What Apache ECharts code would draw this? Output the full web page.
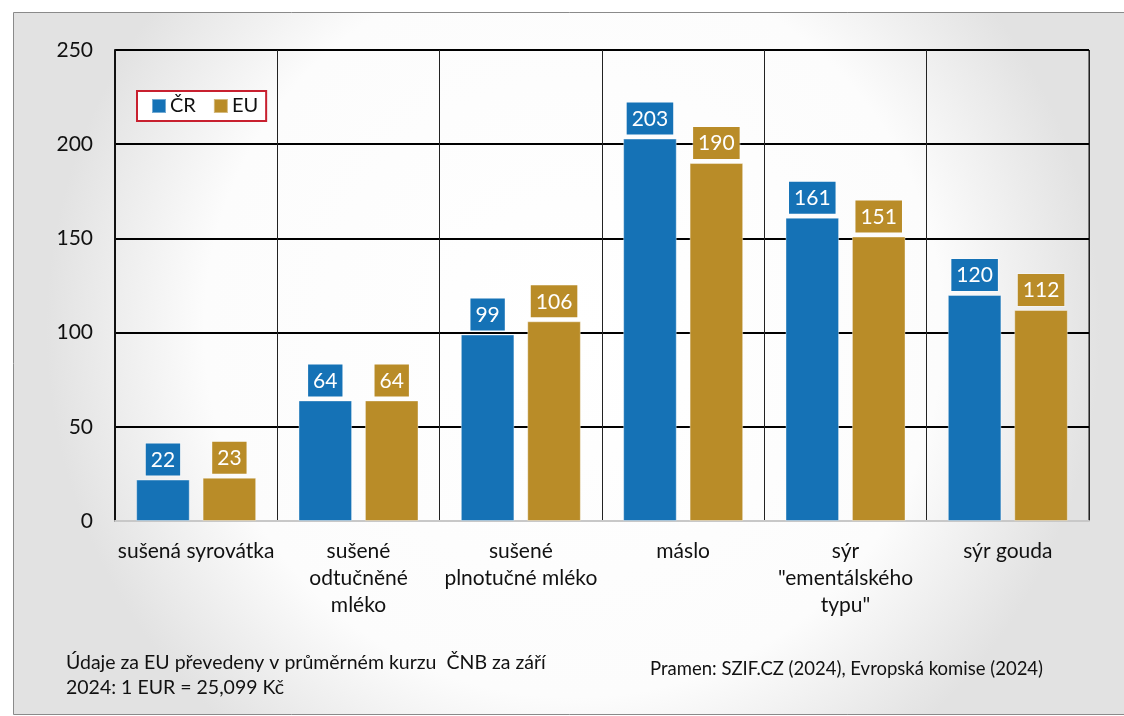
<!DOCTYPE html>
<html><head><meta charset="utf-8">
<script src="https://cdn.jsdelivr.net/npm/echarts@6/dist/echarts.min.js"></script>
<style>html,body{margin:0;padding:0;background:#fff}#c{width:1124px;height:716px}</style>
</head><body><div id="c"></div>
<script>
const categories = ['sušená syrovátka', 'sušené\nodtučněné\nmléko', 'sušené\nplnotučné mléko', 'máslo', 'sýr\n"ementálského\ntypu"', 'sýr gouda'];
const seriesCR = [22, 64, 99, 203, 161, 120];
const seriesEU = [23, 64, 106, 190, 151, 112];
const yTicks = [0, 50, 100, 150, 200, 250];
const noteLeft = 'Údaje za EU převedeny v průměrném kurzu  ČNB za září\n2024: 1 EUR = 25,099 Kč';
const noteRight = 'Pramen: SZIF.CZ (2024), Evropská komise (2024)';

const FONT = 'Lato, "Open Sans", sans-serif';
const BLUE = '#1572b6', GOLD = '#b98c28';
const chart = echarts.init(document.getElementById('c'));
const lbl = c => ({show:true, position:'top', distance:4, color:'#fff', fontSize:21, fontFamily:FONT,
  backgroundColor:c, padding:[6,5,5,5], borderColor:'rgba(255,255,255,0.35)', borderWidth:1});
chart.setOption({
  animation:false,
  backgroundColor:'#fff',
  graphic:[
    {type:'rect', z:-10, shape:{x:13.5,y:12.5,width:1120,height:702},
     style:{stroke:'#8a8a8a', lineWidth:1,
       fill:{type:'radial', x:0.5, y:0.45, r:0.75, colorStops:[{offset:0,color:'#ffffff'},{offset:0.7,color:'#fcfcfc'},{offset:1,color:'#e2e2e2'}]}}},
    {type:'text', left:66, top:650, style:{text:noteLeft, fontSize:19.5, lineHeight:25, fontFamily:FONT, fill:'#111'}},
    {type:'text', left:650, top:660, style:{text:noteRight, fontSize:18.5, fontFamily:FONT, fill:'#111'}}
  ],
  legend:{left:137, top:91, width:126, height:29, padding:[5,8,5,14], itemWidth:14, itemHeight:14, itemGap:17,
    borderColor:'#c8202f', borderWidth:2, backgroundColor:'#fff',
    textStyle:{fontSize:20, fontFamily:FONT, color:'#111', padding:[0,0,0,-1]},
    data:[{name:'ČR', icon:'rect'},{name:'EU', icon:'rect'}]},
  grid:{left:115, right:35, top:50, bottom:195, show:true, borderColor:'#111', borderWidth:1, backgroundColor:'rgba(255,255,255,0.0)'},
  xAxis:{type:'category', data:categories,
    axisLine:{lineStyle:{color:'#c8c8c8', width:2}}, axisTick:{show:false},
    splitLine:{show:true, lineStyle:{color:'#222', width:1}},
    axisLabel:{fontSize:21, fontFamily:FONT, color:'#111', lineHeight:27, margin:17, interval:0}},
  yAxis:{type:'value', min:0, max:250, interval:50,
    axisLine:{show:true, lineStyle:{color:'#111', width:2}}, axisTick:{show:false},
    splitLine:{lineStyle:{color:'#000', width:2}},
    axisLabel:{fontSize:21, fontFamily:FONT, color:'#111', margin:22,
      formatter:v => yTicks.includes(v) ? String(v) : ''}},
  series:[
    {name:'ČR', type:'bar', data:seriesCR, barWidth:'33%', barGap:'24%', itemStyle:{color:BLUE, borderColor:'rgba(255,255,255,0.4)', borderWidth:1}, label:lbl(BLUE), z:3},
    {name:'EU', type:'bar', data:seriesEU, barWidth:'33%', itemStyle:{color:GOLD, borderColor:'rgba(255,255,255,0.4)', borderWidth:1}, label:lbl(GOLD), z:3}
  ]
});
</script></body></html>
